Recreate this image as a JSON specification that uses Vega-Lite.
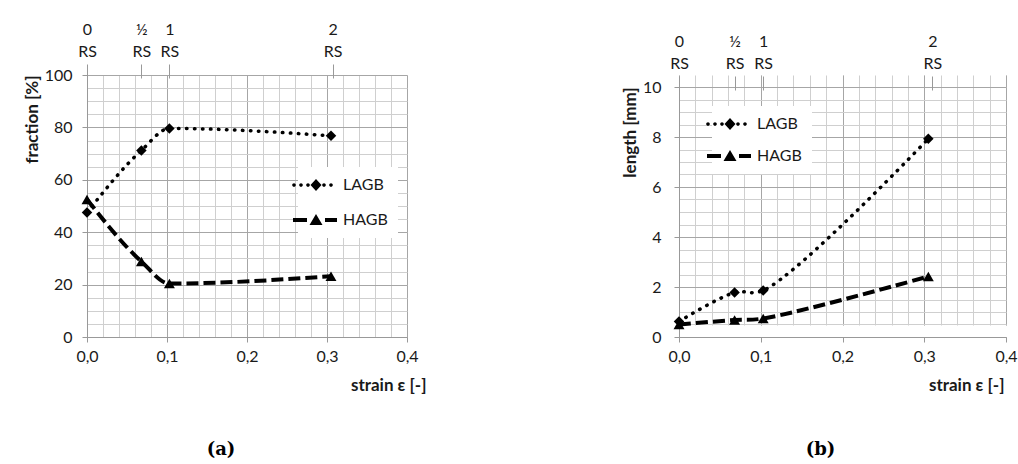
{
  "$schema": "https://vega.github.io/schema/vega-lite/v6.json",
  "padding": {"left": 23, "top": 21, "right": 0, "bottom": 0},
  "spacing": 195,
  "datasets": {
    "fraction": [
      {"strain": 0, "value": 47.5, "series": "LAGB"},
      {"strain": 0.068, "value": 71.2, "series": "LAGB"},
      {"strain": 0.103, "value": 79.6, "series": "LAGB"},
      {"strain": 0.305, "value": 76.8, "series": "LAGB"},
      {"strain": 0, "value": 52.5, "series": "HAGB"},
      {"strain": 0.068, "value": 28.8, "series": "HAGB"},
      {"strain": 0.103, "value": 20.4, "series": "HAGB"},
      {"strain": 0.305, "value": 23.2, "series": "HAGB"}
    ],
    "length": [
      {"strain": 0, "value": 0.62, "series": "LAGB"},
      {"strain": 0.068, "value": 1.78, "series": "LAGB"},
      {"strain": 0.103, "value": 1.86, "series": "LAGB"},
      {"strain": 0.305, "value": 7.93, "series": "LAGB"},
      {"strain": 0, "value": 0.5, "series": "HAGB"},
      {"strain": 0.068, "value": 0.68, "series": "HAGB"},
      {"strain": 0.103, "value": 0.74, "series": "HAGB"},
      {"strain": 0.305, "value": 2.42, "series": "HAGB"}
    ]
  },
  "resolve": {"scale": {"shape": "independent"}, "legend": {"shape": "independent"}},
  "hconcat": [
    {
      "width": 320,
      "height": 262,
      "data": {"name": "fraction"},
      "title": {"text": "(a)", "orient": "bottom", "anchor": "middle", "frame": "group", "dx": -26, "offset": 48, "font": "DejaVu Serif", "fontSize": 18, "fontWeight": "bold", "color": "black"},
      "layer": [
        {
          "mark": {"type": "point", "opacity": 0, "filled": true, "color": "black"},
          "encoding": {
            "x": {"field": "strain", "type": "quantitative", "scale": {"domain": [0, 0.4], "nice": false, "zero": false},
              "axis": {"orient": "bottom", "values": [0,0.02,0.04,0.06,0.08,0.1,0.12,0.14,0.16,0.18,0.2,0.22,0.24,0.26,0.28,0.3,0.32,0.34,0.36,0.38,0.4], "grid": true, "gridColor": "#cfcfcf", "labels": false, "ticks": false, "domain": false, "title": null}},
            "y": {"field": "value", "type": "quantitative", "scale": {"domain": [0, 100], "nice": false},
              "axis": {"orient": "left", "values": [0,5,10,15,20,25,30,35,40,45,50,55,60,65,70,75,80,85,90,95,100], "grid": true, "gridColor": "#cfcfcf", "labels": false, "ticks": false, "domain": false, "title": null}},
            "shape": {"field": "series", "type": "nominal",
              "scale": {"domain": ["LAGB", "HAGB"], "range": ["M-4.76,0A0.36,0.36 0 1,0 -4.04,0A0.36,0.36 0 1,0 -4.76,0Z M-3.36,0A0.36,0.36 0 1,0 -2.64,0A0.36,0.36 0 1,0 -3.36,0Z M-1.96,0A0.36,0.36 0 1,0 -1.24,0A0.36,0.36 0 1,0 -1.96,0Z M1.24,0A0.36,0.36 0 1,0 1.96,0A0.36,0.36 0 1,0 1.24,0Z M2.64,0A0.36,0.36 0 1,0 3.36,0A0.36,0.36 0 1,0 2.64,0Z M0,-1.2L1.1,0L0,1.2L-1.1,0Z", "M-4.6,-0.4L-1.8,-0.4L-1.8,0.4L-4.6,0.4Z M1.8,-0.4L4.2,-0.4L4.2,0.4L1.8,0.4Z M0,-1.2L1.3,1L-1.3,1Z"]},
              "legend": {"orient": "none", "legendX": 211, "legendY": 92, "title": null, "fillColor": "white", "padding": 10, "symbolSize": 100, "symbolOpacity": 1, "symbolStrokeWidth": 0, "symbolFillColor": "black", "labelFontSize": 16, "labelFont": "Lato", "labelColor": "#1a1a1a", "labelOffset": 19, "rowPadding": 19}}
          }
        },
        {
          "transform": [{"filter": "datum.series === 'LAGB'"}],
          "mark": {"type": "line", "color": "black", "strokeWidth": 3.5, "strokeCap": "round", "strokeDash": [0.5, 7.5], "interpolate": "monotone"},
          "encoding": {
            "x": {"field": "strain", "type": "quantitative", "scale": {"domain": [0, 0.4], "nice": false, "zero": false},
              "axis": {"orient": "bottom", "values": [0, 0.1, 0.2, 0.3, 0.4], "grid": true, "gridColor": "#a6a6a6", "labelExpr": "replace(format(datum.value, '.1f'), '.', ',')", "labelFlush": false, "tickSize": 5, "labelPadding": 6, "title": "strain ε [-]", "titleFontWeight": "bold", "titleAlign": "right", "titleX": 339, "titleY": 48, "titleBaseline": "middle"}},
            "y": {"field": "value", "type": "quantitative", "scale": {"domain": [0, 100], "nice": false},
              "axis": {"orient": "left", "values": [0, 20, 40, 60, 80, 100], "grid": true, "gridColor": "#a6a6a6", "tickSize": 5, "labelPadding": 10, "title": "fraction [%]", "titleAnchor": "end", "titleFontWeight": "bold", "titlePadding": 3}}
          }
        },
        {
          "transform": [{"filter": "datum.series === 'HAGB'"}],
          "mark": {"type": "line", "color": "black", "strokeWidth": 4, "strokeCap": "butt", "strokeDash": [12, 5], "interpolate": "monotone"},
          "encoding": {
            "x": {"field": "strain", "type": "quantitative", "scale": {"domain": [0, 0.4], "nice": false, "zero": false}, "axis": null},
            "y": {"field": "value", "type": "quantitative", "scale": {"domain": [0, 100], "nice": false}, "axis": null}
          }
        },
        {
          "transform": [{"filter": "datum.series === 'HAGB'"}],
          "mark": {"type": "point", "shape": "triangle-up", "filled": true, "color": "black", "opacity": 1, "size": 120},
          "encoding": {
            "x": {"field": "strain", "type": "quantitative", "scale": {"domain": [0, 0.4], "nice": false, "zero": false}, "axis": null},
            "y": {"field": "value", "type": "quantitative", "scale": {"domain": [0, 100], "nice": false}, "axis": null}
          }
        },
        {
          "transform": [{"filter": "datum.series === 'LAGB'"}],
          "mark": {"type": "point", "shape": "diamond", "filled": true, "color": "black", "opacity": 1, "size": 110},
          "encoding": {
            "x": {"field": "strain", "type": "quantitative", "scale": {"domain": [0, 0.4], "nice": false, "zero": false},
              "axis": {"orient": "top", "values": [0, 0.068, 0.103, 0.307], "labelExpr": "datum.value < 0.03 ? ['0','RS'] : datum.value < 0.085 ? ['½','RS'] : datum.value < 0.2 ? ['1','RS'] : ['2','RS']", "labelLineHeight": 22, "labelFlush": false, "labelOverlap": false, "domain": false, "grid": false, "tickSize": 14, "offset": -3, "labelPadding": 27, "title": null}},
            "y": {"field": "value", "type": "quantitative", "scale": {"domain": [0, 100], "nice": false}, "axis": null}
          }
        }
      ],
      "resolve": {"axis": {"x": "independent", "y": "independent"}}
    },
    {
      "width": 327,
      "height": 262,
      "data": {"name": "length"},
      "title": {"text": "(b)", "orient": "bottom", "anchor": "middle", "frame": "group", "dx": -22, "offset": 48, "font": "DejaVu Serif", "fontSize": 18, "fontWeight": "bold", "color": "black"},
      "layer": [
        {
          "mark": {"type": "point", "opacity": 0, "filled": true, "color": "black"},
          "encoding": {
            "x": {"field": "strain", "type": "quantitative", "scale": {"domain": [0, 0.4], "nice": false, "zero": false},
              "axis": {"orient": "bottom", "values": [0,0.02,0.04,0.06,0.08,0.1,0.12,0.14,0.16,0.18,0.2,0.22,0.24,0.26,0.28,0.3,0.32,0.34,0.36,0.38,0.4], "grid": true, "gridColor": "#cfcfcf", "labels": false, "ticks": false, "domain": false, "title": null}},
            "y": {"field": "value", "type": "quantitative", "scale": {"domain": [0, 10], "nice": false, "range": [262, 12]},
              "axis": {"orient": "left", "values": [0,0.5,1,1.5,2,2.5,3,3.5,4,4.5,5,5.5,6,6.5,7,7.5,8,8.5,9,9.5,10], "grid": true, "gridColor": "#cfcfcf", "labels": false, "ticks": false, "domain": false, "title": null}},
            "shape": {"field": "series", "type": "nominal",
              "scale": {"domain": ["LAGB", "HAGB"], "range": ["M-4.76,0A0.36,0.36 0 1,0 -4.04,0A0.36,0.36 0 1,0 -4.76,0Z M-3.36,0A0.36,0.36 0 1,0 -2.64,0A0.36,0.36 0 1,0 -3.36,0Z M-1.96,0A0.36,0.36 0 1,0 -1.24,0A0.36,0.36 0 1,0 -1.96,0Z M1.24,0A0.36,0.36 0 1,0 1.96,0A0.36,0.36 0 1,0 1.24,0Z M2.64,0A0.36,0.36 0 1,0 3.36,0A0.36,0.36 0 1,0 2.64,0Z M0,-1.2L1.1,0L0,1.2L-1.1,0Z", "M-4.6,-0.4L-1.8,-0.4L-1.8,0.4L-4.6,0.4Z M1.8,-0.4L4.2,-0.4L4.2,0.4L1.8,0.4Z M0,-1.2L1.3,1L-1.3,1Z"]},
              "legend": {"orient": "none", "legendX": 33, "legendY": 31, "title": null, "fillColor": "white", "padding": 10, "symbolSize": 100, "symbolOpacity": 1, "symbolStrokeWidth": 0, "symbolFillColor": "black", "labelFontSize": 16, "labelFont": "Lato", "labelColor": "#1a1a1a", "labelOffset": 19, "rowPadding": 16}}
          }
        },
        {
          "transform": [{"filter": "datum.series === 'LAGB'"}],
          "mark": {"type": "line", "color": "black", "strokeWidth": 3.5, "strokeCap": "round", "strokeDash": [0.5, 7.5], "interpolate": "catmull-rom"},
          "encoding": {
            "x": {"field": "strain", "type": "quantitative", "scale": {"domain": [0, 0.4], "nice": false, "zero": false},
              "axis": {"orient": "bottom", "values": [0, 0.1, 0.2, 0.3, 0.4], "grid": true, "gridColor": "#a6a6a6", "labelExpr": "replace(format(datum.value, '.1f'), '.', ',')", "labelFlush": false, "tickSize": 5, "labelPadding": 6, "title": "strain ε [-]", "titleFontWeight": "bold", "titleAlign": "right", "titleX": 325, "titleY": 48, "titleBaseline": "middle"}},
            "y": {"field": "value", "type": "quantitative", "scale": {"domain": [0, 10], "nice": false, "range": [262, 12]},
              "axis": {"orient": "left", "values": [0, 2, 4, 6, 8, 10], "grid": true, "gridColor": "#a6a6a6", "tickSize": 5, "labelPadding": 13, "title": "length [mm]", "titleAnchor": "end", "titleFontWeight": "bold", "titlePadding": 3}}
          }
        },
        {
          "transform": [{"filter": "datum.series === 'HAGB'"}],
          "mark": {"type": "line", "color": "black", "strokeWidth": 4, "strokeCap": "butt", "strokeDash": [12, 5], "interpolate": "catmull-rom"},
          "encoding": {
            "x": {"field": "strain", "type": "quantitative", "scale": {"domain": [0, 0.4], "nice": false, "zero": false}, "axis": null},
            "y": {"field": "value", "type": "quantitative", "scale": {"domain": [0, 10], "nice": false, "range": [262, 12]}, "axis": null}
          }
        },
        {
          "transform": [{"filter": "datum.series === 'HAGB'"}],
          "mark": {"type": "point", "shape": "triangle-up", "filled": true, "color": "black", "opacity": 1, "size": 120},
          "encoding": {
            "x": {"field": "strain", "type": "quantitative", "scale": {"domain": [0, 0.4], "nice": false, "zero": false}, "axis": null},
            "y": {"field": "value", "type": "quantitative", "scale": {"domain": [0, 10], "nice": false, "range": [262, 12]}, "axis": null}
          }
        },
        {
          "transform": [{"filter": "datum.series === 'LAGB'"}],
          "mark": {"type": "point", "shape": "diamond", "filled": true, "color": "black", "opacity": 1, "size": 110},
          "encoding": {
            "x": {"field": "strain", "type": "quantitative", "scale": {"domain": [0, 0.4], "nice": false, "zero": false},
              "axis": {"orient": "top", "values": [0, 0.068, 0.103, 0.31], "labelExpr": "datum.value < 0.03 ? ['0','RS'] : datum.value < 0.085 ? ['½','RS'] : datum.value < 0.2 ? ['1','RS'] : ['2','RS']", "labelLineHeight": 22, "labelFlush": false, "labelOverlap": false, "domain": false, "grid": false, "tickSize": 14, "offset": -15, "labelPadding": 27, "title": null}},
            "y": {"field": "value", "type": "quantitative", "scale": {"domain": [0, 10], "nice": false, "range": [262, 12]}, "axis": null}
          }
        }
      ],
      "resolve": {"axis": {"x": "independent", "y": "independent"}}
    }
  ],
  "config": {
    "view": {"stroke": null},
    "font": "Lato",
    "axis": {"labelFont": "Lato", "titleFont": "Lato", "labelFontSize": 16, "titleFontSize": 17, "labelColor": "#1a1a1a", "titleColor": "#1a1a1a", "domainColor": "#999999", "tickColor": "#999999", "gridWidth": 1}
  }
}
